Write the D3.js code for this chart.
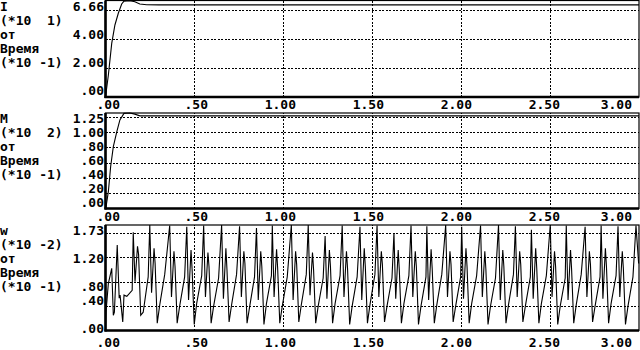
<!DOCTYPE html>
<html><head><meta charset="utf-8">
<script src="https://cdn.jsdelivr.net/npm/d3@7"></script>
<style>
body{margin:0;background:#fff}
svg{display:block}
text{font-family:"DejaVu Sans Mono",monospace;font-weight:bold;font-size:13px;fill:#000;white-space:pre}
</style></head><body>
<svg id="c" width="640" height="350"></svg>
<script>
// ---------- data ----------
const xTickValues = [0, 0.5, 1, 1.5, 2, 2.5, 3];
const xTickLabels = [".00", ".50", "1.00", "1.50", "2.00", "2.50", "3.00"];
const xGridValues = [0.5, 1, 1.5, 2, 2.5];

const iTitle = ["I", "(*10  1)", "от", "Время", "(*10 -1)"];
const iTickValues = [0, 2, 4, 6];
const iTickLabels = [".00", "2.00", "4.00", "6.66"];
const iGrid = [2, 4, 6];
const iMax = 6.66;
const iTime = [0, 0.016, 0.035, 0.053, 0.072, 0.091, 0.104, 0.137, 0.165, 0.193, 0.231, 0.30, 3.0];
const iValue = [0, 1.50, 3.70, 4.97, 5.78, 6.42, 6.62, 6.65, 6.58, 6.42, 6.37, 6.36, 6.36];

const mTitle = ["M", "(*10  2)", "от", "Время", "(*10 -1)"];
const mTickValues = [0, 0.2, 0.4, 0.6, 0.8, 1.0, 1.2];
const mTickLabels = [".00", ".20", ".40", ".60", ".80", "1.00", "1.25"];
const mGrid = [0.2, 0.4, 0.6, 0.8, 1.0, 1.2];
const mMax = 1.25;
const mTime = [0, 0.003, 0.016, 0.029, 0.044, 0.063, 0.081, 0.104, 0.137, 0.165, 0.193, 0.25, 3.0];
const mValue = [0, 0.02, 0.22, 0.55, 0.81, 1.00, 1.16, 1.245, 1.25, 1.235, 1.213, 1.212, 1.212];

const wTitle = ["w", "(*10 -2)", "от", "Время", "(*10 -1)"];
const wTickValues = [0, 0.4, 0.8, 1.2, 1.6];
const wTickLabels = [".00", ".40", ".80", "1.20", "1.73"];
const wGrid = [0.4, 0.8, 1.2, 1.6];
const wMax = 1.73;
const wTime = [
 0, 0.003, 0.016, 0.035, 0.044, 0.050, 0.066, 0.077, 0.082, 0.097, 0.104, 0.120, 0.150,
 0.156, 0.166, 0.180, 0.186, 0.198, 0.212, 0.240,
 0.249, 0.259, 0.273, 0.279, 0.291, 0.305, 0.333,
 0.361, 0.371, 0.385, 0.391, 0.403, 0.417, 0.445,
 0.457, 0.467, 0.481, 0.487, 0.499, 0.513, 0.541,
 0.552, 0.562, 0.576, 0.582, 0.594, 0.608, 0.636,
 0.653, 0.663, 0.677, 0.683, 0.695, 0.709, 0.737,
 0.754, 0.764, 0.778, 0.784, 0.796, 0.810, 0.838,
 0.849, 0.859, 0.873, 0.879, 0.891, 0.905, 0.933,
 0.938, 0.948, 0.962, 0.968, 0.980, 0.994, 1.022,
 1.045, 1.055, 1.069, 1.075, 1.087, 1.101, 1.129,
 1.140, 1.150, 1.164, 1.170, 1.182, 1.196, 1.224,
 1.235, 1.245, 1.259, 1.265, 1.277, 1.291, 1.319,
 1.331, 1.341, 1.355, 1.361, 1.373, 1.387, 1.415,
 1.431, 1.441, 1.455, 1.461, 1.473, 1.487, 1.515,
 1.527, 1.537, 1.551, 1.557, 1.569, 1.583, 1.611,
 1.622, 1.632, 1.646, 1.652, 1.664, 1.678, 1.706,
 1.718, 1.728, 1.742, 1.748, 1.760, 1.774, 1.802,
 1.807, 1.817, 1.831, 1.837, 1.849, 1.863, 1.891,
 1.913, 1.923, 1.937, 1.943, 1.955, 1.969, 1.997,
 2.003, 2.013, 2.027, 2.033, 2.045, 2.059, 2.087,
 2.109, 2.119, 2.133, 2.139, 2.151, 2.165, 2.193,
 2.210, 2.220, 2.234, 2.240, 2.252, 2.266, 2.294,
 2.305, 2.315, 2.329, 2.335, 2.347, 2.361, 2.389,
 2.395, 2.405, 2.419, 2.425, 2.437, 2.451, 2.479,
 2.501, 2.511, 2.525, 2.531, 2.543, 2.557, 2.585,
 2.591, 2.601, 2.615, 2.621, 2.633, 2.647, 2.675,
 2.697, 2.707, 2.721, 2.727, 2.739, 2.753, 2.781,
 2.787, 2.797, 2.811, 2.817, 2.829, 2.843, 2.871,
 2.882, 2.892, 2.906, 2.912, 2.924, 2.938, 2.966,
 2.983, 2.998
];
const wValue = [
 0, 0.31, 0.77, 1.02, 0.25, 0.30, 1.40, 0.53, 0.58, 0.14, 0.58, 0.56, 0.66,
 1.61, 0.80, 1.38, 1.25, 0.25, 0.30, 0.88,
 1.73, 0.62, 1.35, 1.10, 0.12, 0.42, 0.92,
 1.72, 0.55, 1.30, 1.05, 0.12, 0.40, 0.88,
 1.70, 0.50, 1.32, 1.00, 0.10, 0.45, 0.90,
 1.72, 0.55, 1.28, 1.05, 0.12, 0.40, 0.86,
 1.73, 0.52, 1.35, 1.00, 0.14, 0.42, 0.92,
 1.71, 0.55, 1.30, 1.10, 0.12, 0.38, 0.88,
 1.68, 0.50, 1.30, 1.05, 0.10, 0.44, 0.90,
 1.72, 0.55, 1.33, 1.02, 0.12, 0.40, 0.88,
 1.73, 0.50, 1.30, 1.08, 0.14, 0.42, 0.92,
 1.73, 0.58, 1.28, 1.00, 0.12, 0.40, 0.86,
 1.55, 0.52, 1.32, 1.05, 0.12, 0.44, 0.90,
 1.72, 0.55, 1.30, 1.02, 0.10, 0.40, 0.88,
 1.70, 0.50, 1.35, 1.05, 0.12, 0.42, 0.92,
 1.72, 0.55, 1.30, 1.08, 0.14, 0.40, 0.86,
 1.60, 0.52, 1.32, 1.00, 0.12, 0.44, 0.90,
 1.72, 0.55, 1.30, 1.05, 0.10, 0.40, 0.88,
 1.71, 0.50, 1.33, 1.02, 0.12, 0.42, 0.92,
 1.73, 0.55, 1.30, 1.08, 0.14, 0.40, 0.88,
 1.70, 0.52, 1.35, 1.05, 0.12, 0.44, 0.90,
 1.72, 0.55, 1.30, 1.00, 0.10, 0.40, 0.86,
 1.73, 0.50, 1.32, 1.05, 0.12, 0.42, 0.92,
 1.71, 0.55, 1.30, 1.08, 0.14, 0.40, 0.88,
 1.65, 0.52, 1.35, 1.02, 0.12, 0.44, 0.90,
 1.73, 0.55, 1.30, 1.05, 0.10, 0.40, 0.86,
 1.72, 0.50, 1.32, 1.00, 0.12, 0.42, 0.92,
 1.70, 0.55, 1.30, 1.08, 0.14, 0.40, 0.88,
 1.72, 0.52, 1.35, 1.05, 0.12, 0.44, 0.90,
 1.71, 0.55, 1.30, 1.02, 0.10, 0.40, 0.88,
 1.72, 1.10
];

// ---------- layout ----------
const W = 640, ROW = 14, COL = 8;
const plotLeft = 105.5, plotRight = 639;
const panels = [
  {title: iTitle, tv: iTickValues, tl: iTickLabels, grid: iGrid, max: iMax, t: iTime, v: iValue, top: 0.5, bottom: 97},
  {title: mTitle, tv: mTickValues, tl: mTickLabels, grid: mGrid, max: mMax, t: mTime, v: mValue, top: 113, bottom: 208.5},
  {title: wTitle, tv: wTickValues, tl: wTickLabels, grid: wGrid, max: wMax, t: wTime, v: wValue, top: 225, bottom: 330.5}
];

const svg = d3.select("#c");
const x = d3.scaleLinear().domain([0, 3]).range([plotLeft, plotRight]);

panels.forEach(p => {
  const y = d3.scaleLinear().domain([0, p.max]).range([p.bottom, p.top]);
  const g = svg.append("g");

  // grid via axes
  g.append("g").attr("transform", `translate(0,${p.bottom})`)
    .call(d3.axisBottom(x).tickValues(xGridValues).tickSize(-(p.bottom - p.top)).tickFormat(""))
    .call(s => s.select(".domain").remove())
    .selectAll("line").attr("stroke", "#000").attr("stroke-dasharray", "2,1.5").attr("shape-rendering", "crispEdges");
  g.append("g").attr("transform", `translate(${plotLeft},0)`)
    .call(d3.axisLeft(y).tickValues(p.grid).tickSize(-(plotRight - plotLeft)).tickFormat(""))
    .call(s => s.select(".domain").remove())
    .selectAll("line").attr("stroke", "#000").attr("stroke-dasharray", "2,1.5").attr("shape-rendering", "crispEdges");

  // frame
  g.append("rect").attr("x", x(0)).attr("y", y(p.max)).attr("width", x(3) - x(0)).attr("height", y(0) - y(p.max))
    .attr("fill", "none").attr("stroke", "#000").attr("stroke-width", 1.2);
  g.append("line").attr("x1", x(0)).attr("x2", x(0)).attr("y1", y(p.max)).attr("y2", y(0) + 1)
    .attr("stroke", "#000").attr("stroke-width", 2.6);
  g.append("line").attr("x1", x(0) - 1).attr("x2", x(3)).attr("y1", y(0)).attr("y2", y(0))
    .attr("stroke", "#000").attr("stroke-width", 2.6);

  // data line
  const pts = p.t.map((t, i) => [t, p.v[i]]);
  g.append("path").datum(pts)
    .attr("d", d3.line().x(d => x(d[0])).y(d => y(d[1])))
    .attr("fill", "none").attr("stroke", "#000").attr("stroke-width", 1.1);

  // left title block (character rows)
  const firstRow = Math.floor(y(p.max) / ROW);
  p.title.forEach((s, i) => {
    g.append("text").attr("x", 0).attr("y", (firstRow + i) * ROW + 11).text(s);
  });

  // y tick labels, snapped to text rows
  p.tv.forEach((v, i) => {
    const row = Math.floor(y(v) / ROW);
    g.append("text").attr("x", 104).attr("y", row * ROW + 11).attr("text-anchor", "end").text(p.tl[i]);
  });

  // x tick labels, snapped to text grid
  const xRow = Math.floor(y(0) / ROW) + 1;
  xTickValues.forEach((t, i) => {
    const right = Math.min(Math.round((x(t) + 12) / COL) * COL, W - COL);
    g.append("text").attr("x", right).attr("y", xRow * ROW + 11).attr("text-anchor", "end").text(xTickLabels[i]);
  });
});
</script>
</body></html>
